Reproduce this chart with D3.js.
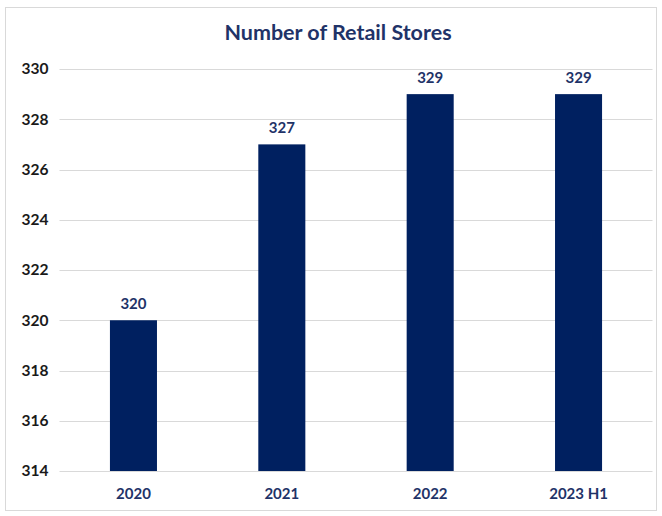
<!DOCTYPE html>
<html><head><meta charset="utf-8">
<script src="https://cdn.jsdelivr.net/npm/d3@7"></script>
<style>
html,body{margin:0;padding:0;background:#fff;}
svg{display:block;font-family:Lato,"Open Sans",sans-serif;}
</style></head>
<body>
<svg id="chart" width="662" height="516"></svg>
<script>
const categories = ["2020", "2021", "2022", "2023 H1"];
const stores = [320, 327, 329, 329];
const yTicks = [314, 316, 318, 320, 322, 324, 326, 328, 330];
const title = "Number of Retail Stores";

const svg = d3.select("#chart");
const W = 662, H = 516;
const m = {left: 59.5, right: 9.5, top: 69, bottom: 45};
const navy = "#002060";

svg.append("rect").attr("x", 5.5).attr("y", 7.5).attr("width", 651).attr("height", 503)
  .attr("fill", "#fff").attr("stroke", "#d9d9d9").attr("stroke-width", 1);

const x = d3.scaleBand().domain(categories).range([m.left, W - m.right]).paddingInner(0.683).paddingOuter(0.34);
const y = d3.scaleLinear().domain([314, 330]).range([H - m.bottom, m.top]);

const grid = svg.append("g");
grid.selectAll("line").data(yTicks).join("line")
  .attr("x1", m.left).attr("x2", W - m.right)
  .attr("y1", d => Math.round(y(d)) + 0.5).attr("y2", d => Math.round(y(d)) + 0.5)
  .attr("stroke", "#d9d9d9").attr("stroke-width", 1);

svg.append("g").selectAll("rect").data(stores).join("rect")
  .attr("x", (d, i) => x(categories[i]))
  .attr("width", x.bandwidth())
  .attr("y", d => y(d))
  .attr("height", d => y(314) - y(d))
  .attr("fill", navy);

svg.append("g").selectAll("text").data(stores).join("text")
  .attr("x", (d, i) => x(categories[i]) + x.bandwidth() / 2)
  .attr("y", d => y(d) - 11)
  .attr("text-anchor", "middle")
  .attr("font-size", 15).attr("font-weight", "bold").attr("fill", "#1f3368")
  .text(d => d);

const yAxis = d3.axisLeft(y).tickValues(yTicks).tickSize(0).tickPadding(11);
const ya = svg.append("g").attr("transform", `translate(${m.left},0)`).call(yAxis);
ya.select(".domain").remove();
ya.selectAll("text").attr("font-size", 15.5).attr("font-weight", "bold").attr("fill", "#1a1a1a")
  .attr("font-family", "Lato,'Open Sans',sans-serif");

const xAxis = d3.axisBottom(x).tickSize(0).tickPadding(17);
const xa = svg.append("g").attr("transform", `translate(0,${H - m.bottom})`).call(xAxis);
xa.select(".domain").remove();
xa.selectAll("text").attr("font-size", 15).attr("font-weight", "bold").attr("fill", "#1f3368")
  .attr("font-family", "Lato,'Open Sans',sans-serif");

svg.append("text").attr("x", 338).attr("y", 40).attr("text-anchor", "middle")
  .attr("font-size", 21.5).attr("font-weight", "bold").attr("fill", "#1f3368")
  .text(title);
</script>
</body></html>
